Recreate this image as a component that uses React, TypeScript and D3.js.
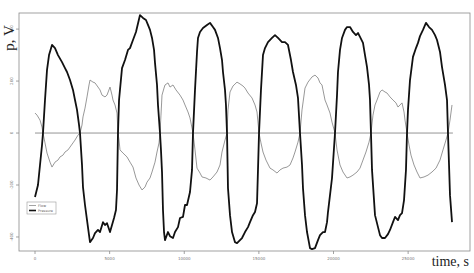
import React from "react";
import * as d3 from "d3";

// Pressure (thick black) series: [time s, value]
const pressureSeries: [number, number][] = [
  [0,-246],[200,-200],[335,-123],[470,-46],[535,0],[670,127],[805,243],[940,300],[1140,339],[1340,327],
  [1540,300],[1810,273],[2010,250],[2145,235],[2345,204],[2545,166],[2680,127],[2815,89],[2950,31],[3015,0],
  [3150,-123],[3215,-208],[3350,-277],[3485,-335],[3620,-393],[3685,-420],[3885,-404],[4020,-385],[4220,-373],[4355,-381],
  [4555,-343],[4690,-354],[4825,-347],[5025,-381],[5160,-354],[5295,-327],[5425,-296],[5495,-219],[5560,0],[5630,127],
  [5830,250],[6030,281],[6230,320],[6365,327],[6565,358],[6765,389],[7035,454],[7235,443],[7435,435],[7570,416],
  [7705,397],[7840,366],[7975,320],[8040,270],[8175,185],[8240,108],[8375,0],[8440,-65],[8510,-150],[8575,-296],
  [8645,-381],[8710,-412],[8910,-381],[9045,-397],[9245,-404],[9380,-381],[9580,-362],[9715,-327],[9915,-323],[10050,-277],
  [10185,-277],[10385,-227],[10520,-142],[10585,0],[10720,166],[10855,312],[10920,366],[11055,389],[11255,404],[11525,416],
  [11725,424],[11925,408],[12060,397],[12260,366],[12395,327],[12530,281],[12595,235],[12730,166],[12795,108],[12865,0],
  [12930,-212],[13065,-316],[13200,-381],[13400,-420],[13535,-424],[13735,-412],[13870,-404],[14070,-381],[14270,-362],[14405,-343],
  [14605,-316],[14740,-304],[14875,-270],[14940,-142],[15010,0],[15140,166],[15275,300],[15410,327],[15610,350],[15880,366],
  [16080,377],[16280,366],[16550,350],[16750,350],[16950,339],[17150,281],[17285,235],[17485,185],[17620,135],[17755,0],
  [17890,-123],[17955,-212],[18090,-316],[18225,-381],[18425,-443],[18560,-447],[18760,-443],[18960,-412],[19095,-393],[19295,-381],
  [19430,-381],[19565,-343],[19630,-304],[19765,-239],[19900,-173],[20100,0],[20235,146],[20300,235],[20435,320],[20570,366],
  [20770,397],[20905,408],[21105,408],[21305,389],[21505,377],[21640,385],[21775,370],[21975,347],[22110,300],[22245,254],
  [22380,185],[22445,127],[22510,0],[22580,-142],[22780,-316],[22980,-362],[23115,-393],[23250,-404],[23450,-404],[23650,-389],
  [23785,-373],[23985,-343],[24120,-323],[24320,-335],[24455,-316],[24590,-308],[24725,-258],[24855,-142],[24925,0],[24990,89],
  [25125,204],[25325,293],[25525,327],[25660,347],[25795,373],[25995,397],[26195,424],[26400,408],[26600,397],[26800,377],
  [26935,358],[27135,312],[27270,254],[27470,185],[27605,127],[27670,0],[27740,-123],[27805,-239],[27940,-343],
];

// Flow (thin grey) series: [time s, value]
const flowSeries: [number, number][] = [
  [0,77],[135,69],[335,50],[470,23],[535,0],[670,-38],[805,-77],[1005,-112],[1140,-131],[1340,-112],
  [1540,-104],[1675,-92],[1875,-85],[2010,-73],[2210,-65],[2345,-54],[2545,-38],[2680,-27],[2880,-8],[3015,0],
  [3150,31],[3215,62],[3350,96],[3485,139],[3620,185],[3685,204],[3885,196],[4020,193],[4220,177],[4355,166],
  [4490,146],[4690,139],[4825,146],[5025,177],[5160,146],[5225,127],[5360,108],[5495,77],[5560,0],[5630,-27],
  [5695,-65],[5895,-77],[6165,-92],[6365,-112],[6565,-131],[6765,-173],[6970,-200],[7170,-219],[7370,-208],[7505,-189],
  [7705,-173],[7840,-150],[8040,-112],[8175,-73],[8310,-38],[8375,0],[8440,69],[8510,146],[8645,173],[8710,185],
  [8910,193],[9045,177],[9245,185],[9445,166],[9715,146],[9915,127],[10050,108],[10250,81],[10385,58],[10585,0],
  [10720,-65],[10855,-135],[11055,-154],[11190,-169],[11455,-173],[11725,-181],[11925,-169],[12195,-150],[12395,-123],[12530,-73],
  [12730,-27],[12865,0],[12930,89],[13065,158],[13265,181],[13535,196],[13735,189],[13935,181],[14070,173],[14270,154],
  [14540,135],[14740,108],[14875,81],[15010,0],[15140,-38],[15275,-73],[15475,-104],[15745,-135],[15945,-142],[16215,-154],
  [16415,-142],[16615,-135],[16885,-131],[17085,-123],[17285,-96],[17420,-73],[17620,-35],[17755,0],[17890,89],[18090,173],
  [18290,196],[18560,216],[18760,223],[18960,212],[19095,193],[19230,185],[19430,127],[19565,108],[19765,77],[19900,42],
  [20100,0],[20235,-65],[20435,-123],[20635,-150],[20905,-173],[21105,-169],[21305,-162],[21575,-150],[21775,-135],[21975,-104],
  [22175,-73],[22380,-35],[22510,0],[22645,69],[22780,108],[22915,127],[23115,158],[23250,166],[23450,158],[23585,154],
  [23785,139],[23985,127],[24185,116],[24320,100],[24455,108],[24590,116],[24725,81],[24790,50],[24925,0],[25060,-46],
  [25190,-85],[25395,-123],[25595,-150],[25795,-173],[26065,-169],[26330,-162],[26600,-150],[26870,-135],[27135,-104],[27335,-65],
  [27535,-27],[27670,0],[27805,50],[27940,108],
];

const xTicks = [0, 5000, 10000, 15000, 20000, 25000];
const yTicks = [-400, -200, 0, 200, 400];
const legendLabels = ["Flow", "Pressure"];
const zeroLineSpan = [0, 28000];

export default function App() {
  const W = 474, H = 273;
  const left = 19, right = 470, top = 13, bottom = 251;
  const x = d3.scaleLinear().domain([-1072, 29145]).range([left, right]);
  const y = d3.scaleLinear().domain([-454, 462]).range([bottom, top]);
  const line = d3.line<[number, number]>().x(d => x(d[0])).y(d => y(d[1]));
  const axisColor = "#8a8a8a";
  const tickFont = { fontFamily: "DejaVu Sans, sans-serif", fontSize: 4, fill: "#777" } as const;

  return (
    <svg width={W} height={H} style={{ position: "absolute", left: 0, top: 0, background: "#fff" }}>
      <rect x={left} y={top} width={right - left} height={bottom - top} fill="none" stroke={axisColor} strokeWidth={0.8} />
      {xTicks.map(t => (
        <g key={"x" + t}>
          <line x1={x(t)} x2={x(t)} y1={bottom} y2={bottom + 3} stroke={axisColor} strokeWidth={0.8} />
          <text x={x(t)} y={260} textAnchor="middle" style={tickFont}>{t}</text>
        </g>
      ))}
      {yTicks.map(v => (
        <g key={"y" + v}>
          <line x1={left - 3} x2={left} y1={y(v)} y2={y(v)} stroke={axisColor} strokeWidth={0.8} />
          <text transform={`translate(${13},${y(v)}) rotate(-90)`} textAnchor="middle" style={tickFont}>{v}</text>
        </g>
      ))}
      <line x1={x(zeroLineSpan[0])} x2={x(zeroLineSpan[1])} y1={y(0)} y2={y(0)} stroke="#888" strokeWidth={0.9} />
      <path d={line(flowSeries) || ""} fill="none" stroke="#8c8c8c" strokeWidth={0.9} />
      <path d={line(pressureSeries) || ""} fill="none" stroke="#111" strokeWidth={1.8} strokeLinejoin="round" />
      <text transform="translate(14,38) rotate(-90)" textAnchor="middle"
        style={{ fontFamily: "Liberation Serif, serif", fontSize: 15, fill: "#222" }}>p, V</text>
      <text x={469} y={266} textAnchor="end"
        style={{ fontFamily: "Liberation Serif, serif", fontSize: 14, fill: "#222" }}>time, s</text>
      <g>
        <rect x={27} y={202} width={29} height={12} fill="#fff" stroke="#999" strokeWidth={0.6} />
        <line x1={29} x2={36} y1={205.5} y2={205.5} stroke="#8c8c8c" strokeWidth={0.8} />
        <line x1={29} x2={36} y1={210.5} y2={210.5} stroke="#111" strokeWidth={1.6} />
        <text x={38} y={207} style={{ fontFamily: "DejaVu Sans, sans-serif", fontSize: 3.5, fill: "#666" }}>{legendLabels[0]}</text>
        <text x={38} y={212} style={{ fontFamily: "DejaVu Sans, sans-serif", fontSize: 3.5, fill: "#666" }}>{legendLabels[1]}</text>
      </g>
    </svg>
  );
}
